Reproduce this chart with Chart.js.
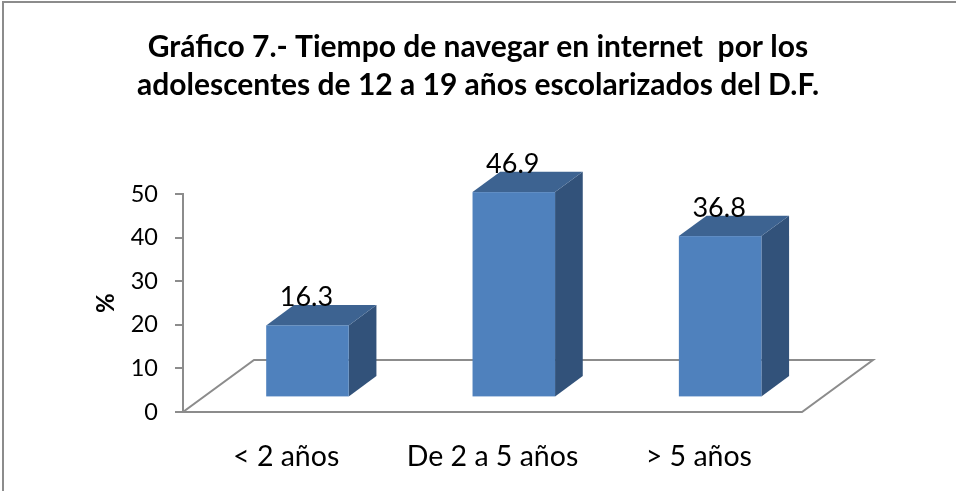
<!DOCTYPE html>
<html>
<head>
<meta charset="utf-8">
<script src="https://cdn.jsdelivr.net/npm/chart.js@4.4.1/dist/chart.umd.min.js"></script>
<style>
  html, body { margin: 0; padding: 0; background: #ffffff; }
  #wrap { width: 956px; height: 491px; }
</style>
</head>
<body>
<div id="wrap"><canvas id="c" width="956" height="491"></canvas></div>
<script>
// ---- data ----
const titleLines = ['Gráfico 7.- Tiempo de navegar en internet  por los', 'adolescentes de 12 a 19 años escolarizados del D.F.'];
const categories = ['< 2 años', 'De 2 a 5 años', '> 5 años'];
const values = [16.3, 46.9, 36.8];
const yTicks = [0, 10, 20, 30, 40, 50];
const yTitle = '%';

// ---- style ----
const FONT = 'Lato, "Open Sans", sans-serif';
const DEPTH = { x: 71, y: -52 };      // floor depth vector
const BAR_FRONT = 0.30;               // bar front plane (fraction of depth)
const BAR_DEPTH = 0.39;               // bar thickness (fraction of depth)
const GRAY = '#8c8c8c';
const COL_FRONT = '#4f81bd';
const COL_TOP = '#3d6391';
const COL_SIDE = '#32527a';

const scene3d = {
  id: 'scene3d',
  beforeDraw(chart) {
    const ctx = chart.ctx;
    ctx.save();
    ctx.fillStyle = '#ffffff';
    ctx.fillRect(0, 0, chart.width, chart.height);
    ctx.strokeStyle = GRAY;
    ctx.lineWidth = 2;
    ctx.strokeRect(3, 2, chart.width + 20, chart.height + 20);
    ctx.restore();
  },
  beforeDatasetsDraw(chart) {
    const ctx = chart.ctx;
    const xs = chart.scales.x, ys = chart.scales.y;
    const x0 = xs.left, x1 = xs.right, yb = ys.getPixelForValue(0);
    ctx.save();
    ctx.strokeStyle = GRAY;
    ctx.lineWidth = 2;
    ctx.beginPath();
    ctx.moveTo(x0, yb);
    ctx.lineTo(x1, yb);
    ctx.lineTo(x1 + DEPTH.x, yb + DEPTH.y);
    ctx.lineTo(x0 + DEPTH.x, yb + DEPTH.y);
    ctx.closePath();
    ctx.fillStyle = '#ffffff';
    ctx.fill();
    ctx.stroke();

    const meta = chart.getDatasetMeta(0);
    const fx = DEPTH.x * BAR_FRONT, fy = DEPTH.y * BAR_FRONT;
    const dx = DEPTH.x * BAR_DEPTH, dy = DEPTH.y * BAR_DEPTH;
    meta.data.forEach((el, i) => {
      const l = el.x - el.width / 2 + fx;
      const r = el.x + el.width / 2 + fx;
      const t = ys.getPixelForValue(values[i]) + fy;
      const b = ys.getPixelForValue(0) + fy;
      ctx.fillStyle = COL_SIDE;
      ctx.beginPath();
      ctx.moveTo(r, b); ctx.lineTo(r + dx, b + dy); ctx.lineTo(r + dx, t + dy); ctx.lineTo(r, t);
      ctx.closePath(); ctx.fill();
      ctx.fillStyle = COL_TOP;
      ctx.beginPath();
      ctx.moveTo(l, t); ctx.lineTo(r, t); ctx.lineTo(r + dx, t + dy); ctx.lineTo(l + dx, t + dy);
      ctx.closePath(); ctx.fill();
      ctx.fillStyle = COL_FRONT;
      ctx.fillRect(l, t, r - l, b - t);
    });
    ctx.restore();
  },
  afterDatasetsDraw(chart) {
    const ctx = chart.ctx;
    const ys = chart.scales.y;
    const meta = chart.getDatasetMeta(0);
    const fx = DEPTH.x * BAR_FRONT, fy = DEPTH.y * BAR_FRONT;
    const dy = DEPTH.y * BAR_DEPTH;
    ctx.save();
    ctx.fillStyle = '#000000';
    ctx.font = '27px ' + FONT;
    ctx.textAlign = 'center';
    ctx.textBaseline = 'alphabetic';
    meta.data.forEach((el, i) => {
      const t = ys.getPixelForValue(values[i]) + fy + dy;
      ctx.fillText(String(values[i]), el.x + fx - 1, t + 1);
    });
    ctx.restore();
  }
};

new Chart(document.getElementById('c'), {
  type: 'bar',
  data: {
    labels: categories,
    datasets: [{
      data: values,
      yAxisID: 'y',
      backgroundColor: 'rgba(0,0,0,0)',
      borderWidth: 0,
      barPercentage: 0.4,
      categoryPercentage: 1.0
    }]
  },
  options: {
    responsive: false,
    animation: false,
    devicePixelRatio: 1,
    layout: { padding: 0 },
    plugins: {
      legend: { display: false },
      tooltip: { enabled: false },
      title: {
        display: true,
        text: titleLines,
        color: '#000000',
        font: { family: FONT, size: 30, weight: 'bold', lineHeight: 1.27 },
        padding: { top: 28, bottom: 90 }
      }
    },
    scales: {
      x: {
        type: 'category',
        offset: true,
        grid: { display: false, drawTicks: false },
        border: { display: false },
        ticks: { color: '#000000', font: { family: FONT, size: 28.5 }, padding: 28, maxRotation: 0 },
        afterFit(scale) { scale.height = 79; }
      },
      y: {
        min: 0,
        max: 50,
        afterBuildTicks(scale) { scale.ticks = yTicks.map(v => ({ value: v })); },
        grid: { drawOnChartArea: false, drawTicks: true, tickLength: 8, color: GRAY, lineWidth: 2 },
        border: { display: true, color: GRAY, width: 2 },
        ticks: { color: '#000000', font: { family: FONT, size: 23.5 }, padding: 17 },
        title: {
          display: true,
          text: yTitle,
          color: '#000000',
          font: { family: FONT, size: 24, weight: 'bold', lineHeight: 1.2 },
          padding: { top: 92, bottom: 0 }
        },
        afterFit(scale) { scale.width = 183; }
      },
      spacer: {
        type: 'linear',
        position: 'right',
        display: true,
        grid: { display: false, drawTicks: false },
        border: { display: false },
        ticks: { display: false },
        afterFit(scale) { scale.width = 154; }
      }
    }
  },
  plugins: [scene3d]
});
</script>
</body>
</html>
